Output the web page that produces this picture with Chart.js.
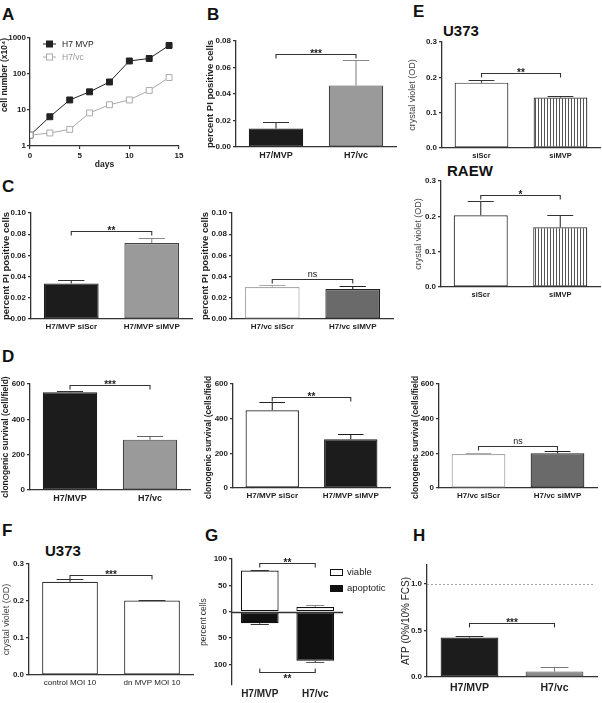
<!DOCTYPE html>
<html>
<head>
<meta charset="utf-8">
<title>MVP figure</title>
<script src="https://cdn.jsdelivr.net/npm/chart.js@4.4.1/dist/chart.umd.min.js"></script>
<style>
  body { margin: 0; width: 602px; height: 703px; position: relative; overflow: hidden; background: #fff; font-family: "Liberation Sans", Arial, sans-serif; color: #111; }
  canvas { position: absolute; }
  .letter { position: absolute; font-size: 17px; font-weight: bold; line-height: 1; }
  .title { position: absolute; font-size: 15px; font-weight: bold; line-height: 1; }
</style>
</head>
<body>
<div class="letter" style="left:2px;top:6px">A</div>
<div class="letter" style="left:207px;top:6px">B</div>
<div class="letter" style="left:413px;top:3px">E</div>
<div class="letter" style="left:2px;top:178px">C</div>
<div class="letter" style="left:2px;top:348px">D</div>
<div class="letter" style="left:2px;top:522px">F</div>
<div class="letter" style="left:205px;top:527px">G</div>
<div class="letter" style="left:413px;top:527px">H</div>
<div class="title" style="left:443px;top:23px">U373</div>
<div class="title" style="left:447px;top:163px">RAEW</div>
<div class="title" style="left:45px;top:543px">U373</div>

<script>
// A - growth curve (log scale)
const daysA = [0, 2, 4, 6, 8, 10, 12, 14];
const mvpA = [2, 6.5, 19, 32, 60, 230, 270, 620];
const vcA = [2, 2.3, 2.9, 8.3, 14, 19, 35, 80];
const yTicksA = [1, 10, 100, 1000];

// B - PI positive cells
const catsB = ["H7/MVP", "H7/vc"];
const valsB = [0.014, 0.0465];
const errB = [0.005, 0.0195];
const yTicksB = [0, 0.02, 0.04, 0.06, 0.08];

// C - PI positive cells after siRNA
const catsC1 = ["H7/MVP siScr", "H7/MVP siMVP"];
const valsC1 = [0.0336, 0.0717];
const errC1 = [0.003, 0.005];
const catsC2 = ["H7/vc siScr", "H7/vc siMVP"];
const valsC2 = [0.0302, 0.0283];
const errC2 = [0.002, 0.0027];
const yTicksC = [0, 0.02, 0.04, 0.06, 0.08, 0.10];

// D - clonogenic survival
const catsD1 = ["H7/MVP", "H7/vc"];
const valsD1 = [553, 285];
const errD1 = [7, 21];
const catsD2 = ["H7/MVP siScr", "H7/MVP siMVP"];
const valsD2 = [448, 281];
const errD2 = [46, 29];
const catsD3 = ["H7/vc siScr", "H7/vc siMVP"];
const valsD3 = [196, 200];
const errD3 = [8, 12];
const yTicksD = [0, 200, 400, 600];

// E - crystal violet, U373 and RAEW
const catsE = ["siScr", "siMVP"];
const valsE1 = [0.185, 0.143];
const errE1 = [0.008, 0.005];
const valsE2 = [0.203, 0.169];
const errE2 = [0.041, 0.036];
const yTicksE = [0, 0.1, 0.2, 0.3];

// F - crystal violet, dn MVP
const catsF = ["control MOI 10", "dn MVP MOI 10"];
const valsF = [0.252, 0.2015];
const errF = [0.007, 0.001];

// G - viable / apoptotic
const catsG = ["H7/MVP", "H7/vc"];
const viableG = [78, 9];
const viableErrG = [1, 3];
const apoptoticG = [-22, -93];
const apoptoticErrG = [1, 3];
const yTicksG = [100, 50, 0, -50, -100];

// H - ATP ratio
const catsH = ["H7/MVP", "H7/vc"];
const valsH = [0.422, 0.06];
const errH = [0.018, 0.043];
const yTicksH = [0, 0.5, 1.0];
const refH = 1.0;

// significance brackets
const sigB = [{ y: 0.070, text: "***" }];
const sigC1 = [{ y: 0.0827, text: "**" }];
const sigC2 = [{ y: 0.0377, text: "ns" }];
const sigD1 = [{ y: 593, text: "***" }];
const sigD2 = [{ y: 525, text: "**" }];
const sigD3 = [{ y: 242, text: "ns" }];
const sigE1 = [{ y: 0.212, text: "**" }];
const sigE2 = [{ y: 0.26, text: "*" }];
const sigF = [{ y: 0.27, text: "***" }];
const sigG = [{ y: 93, text: "**" }, { y: -114, text: "**", up: true }];
const sigH = [{ y: 0.579, text: "***" }];

const FONT = "'Liberation Sans', Arial, sans-serif";
const AX = '#333';
const BLACK = '#1c1c1c';

function font(size, weight) {
  return { family: FONT, size: size, weight: weight || 'bold', lineHeight: 1.2 };
}

// canvas placed so the plot area lands on the given pixel box
function makeCanvas(b) {
  const c = document.createElement('canvas');
  const left = b.x0 - b.W, top = b.yT - b.padT;
  const w = b.xR + b.padR - left, h = b.yB + b.H - top;
  c.width = w; c.height = h;
  c.style.left = left + 'px'; c.style.top = top + 'px';
  c.style.width = w + 'px'; c.style.height = h + 'px';
  document.body.appendChild(c);
  return c;
}

function stripes() {
  const c = document.createElement('canvas');
  c.width = 3; c.height = 3;
  const x = c.getContext('2d');
  x.fillStyle = '#fff'; x.fillRect(0, 0, 3, 3);
  x.fillStyle = '#555'; x.fillRect(0, 0, 1, 3);
  return x.createPattern(c, 'repeat');
}

// error bars, brackets, reference lines and legends
const extras = {
  id: 'extras',
  afterDatasetsDraw(chart, args, o) {
    const ctx = chart.ctx, ys = chart.scales.y, a = chart.chartArea;
    ctx.save();
    if (o.refLine != null) {
      const yy = Math.round(ys.getPixelForValue(o.refLine)) + 0.5;
      ctx.strokeStyle = '#888'; ctx.lineWidth = 0.8; ctx.setLineDash([2, 2]);
      ctx.beginPath(); ctx.moveTo(a.left, yy); ctx.lineTo(a.right - 4, yy); ctx.stroke();
      ctx.setLineDash([]);
    }
    if (o.zeroLine) {
      const yy = Math.round(ys.getPixelForValue(0)) + 0.5;
      ctx.strokeStyle = AX; ctx.lineWidth = 1.3;
      ctx.beginPath(); ctx.moveTo(a.left, yy); ctx.lineTo(a.right, yy); ctx.stroke();
    }
    (o.errs || []).forEach((errs, di) => {
      const meta = chart.getDatasetMeta(di);
      const data = chart.data.datasets[di].data;
      meta.data.forEach((el, i) => {
        const v = data[i], e = errs[i];
        const tip = Math.round(ys.getPixelForValue(v < 0 ? v - e : v + e)) + 0.5;
        const half = el.width * 0.24;
        ctx.strokeStyle = o.errColor[di][i]; ctx.lineWidth = 1.1;
        ctx.beginPath();
        ctx.moveTo(el.x, el.y); ctx.lineTo(el.x, tip);
        ctx.moveTo(el.x - half, tip); ctx.lineTo(el.x + half, tip);
        ctx.stroke();
      });
    });
    (o.brackets || []).forEach(br => {
      const m = chart.getDatasetMeta(0);
      const x1 = m.data[0].x, x2 = m.data[1].x;
      const yy = Math.round(ys.getPixelForValue(br.y)) + 0.5;
      const d = br.up ? -4 : 4;
      ctx.strokeStyle = AX; ctx.lineWidth = 1.1;
      ctx.beginPath();
      ctx.moveTo(x1, yy + d); ctx.lineTo(x1, yy); ctx.lineTo(x2, yy); ctx.lineTo(x2, yy + d);
      ctx.stroke();
      ctx.fillStyle = '#222'; ctx.textAlign = 'center'; ctx.textBaseline = 'alphabetic';
      if (br.text === 'ns') {
        ctx.font = `9px ${FONT}`;
        ctx.fillText(br.text, (x1 + x2) / 2, yy - 2.5);
      } else {
        ctx.font = `bold 10px ${FONT}`;
        ctx.fillText(br.text, (x1 + x2) / 2, br.up ? yy + 9 : yy + 2.5);
      }
    });
    if (o.legendA) {
      o.legendA.forEach(it => {
        const y = a.top + it.dy;
        ctx.strokeStyle = it.color; ctx.lineWidth = 1;
        ctx.beginPath(); ctx.moveTo(a.left + 13, y); ctx.lineTo(a.left + 26, y); ctx.stroke();
        ctx.fillStyle = it.fill;
        ctx.fillRect(a.left + 16.5, y - 3, 6, 6);
        ctx.strokeRect(a.left + 16.5, y - 3, 6, 6);
        ctx.fillStyle = it.text; ctx.font = `8.5px ${FONT}`;
        ctx.textAlign = 'left'; ctx.textBaseline = 'middle';
        ctx.fillText(it.label, a.left + 32, y + 0.5);
      });
    }
    if (o.legendG) {
      o.legendG.forEach(it => {
        const y = a.top + it.dy;
        ctx.fillStyle = it.fill; ctx.strokeStyle = '#111'; ctx.lineWidth = 1;
        ctx.fillRect(a.left + 98, y, 13, 7);
        ctx.strokeRect(a.left + 98.5, y + 0.5, 12, 6);
        ctx.fillStyle = '#222'; ctx.font = `9.5px ${FONT}`;
        ctx.textAlign = 'left'; ctx.textBaseline = 'middle';
        ctx.fillText(it.label, a.left + 115, y + 3.5);
      });
    }
    ctx.restore();
  }
};

function barPanel(p) {
  const b = p.box;
  const c = makeCanvas(b);
  const datasets = p.sets.map(s => ({
    data: s.data, backgroundColor: s.fill, borderColor: s.line,
    borderWidth: 1.2, borderSkipped: false,
    barPercentage: 0.68, categoryPercentage: 1
  }));
  return new Chart(c, {
    type: 'bar',
    data: { labels: p.cats, datasets: datasets },
    options: {
      responsive: false, animation: false, events: [],
      layout: { padding: { top: b.padT, right: b.padR, left: 0, bottom: 0 } },
      plugins: {
        legend: { display: false }, tooltip: { enabled: false },
        extras: {
          errs: p.sets.map(s => s.err),
          errColor: p.sets.map(s => s.errColor || s.line),
          brackets: p.sig, refLine: p.refLine, zeroLine: p.zeroLine, legendG: p.legendG
        }
      },
      scales: {
        x: {
          stacked: !!p.stacked,
          ticks: { font: font(p.catSize, p.catWeight), color: '#222', padding: p.catPad || 3, maxRotation: 0, autoSkip: false },
          grid: { display: false, drawTicks: false },
          border: { display: !p.zeroLine, color: AX, width: 1.3 },
          afterFit: s => { s.height = b.H; }
        },
        y: {
          stacked: !!p.stacked,
          min: p.yMin || 0, max: p.yMax,
          afterBuildTicks: s => { s.ticks = p.yTicks.map(v => ({ value: v })); },
          ticks: { font: font(8), color: '#222', padding: 2, callback: p.fmt },
          grid: { drawOnChartArea: false, tickLength: 3, color: AX, lineWidth: 1.2 },
          border: { color: AX, width: 1.3 },
          title: { display: true, text: p.yTitle, font: font(p.titleSize, p.titleWeight), color: p.titleColor || '#222', padding: { top: 1, bottom: 0 } },
          afterFit: s => { s.width = b.W; }
        }
      }
    },
    plugins: [extras]
  });
}

const fix = n => v => Number(v).toFixed(n);

// ---- A ----
new Chart(makeCanvas({ x0: 30, xR: 179, yT: 38, yB: 146, W: 30, H: 24, padT: 8, padR: 8 }), {
  type: 'line',
  data: {
    datasets: [
      { label: 'H7 MVP', data: daysA.map((d, i) => ({ x: d, y: mvpA[i] })), order: 1,
        borderColor: '#222', backgroundColor: '#222', borderWidth: 1,
        pointStyle: 'rect', pointRadius: 4.2, pointBorderWidth: 1 },
      { label: 'H7/vc', data: daysA.map((d, i) => ({ x: d, y: vcA[i] })), order: 0,
        borderColor: '#aaa', backgroundColor: '#fff', pointBorderColor: '#aaa', borderWidth: 1,
        pointStyle: 'rect', pointRadius: 4.2, pointBorderWidth: 1 }
    ]
  },
  options: {
    responsive: false, animation: false, events: [],
    layout: { padding: { top: 8, right: 8, left: 0, bottom: 0 } },
    plugins: {
      legend: { display: false }, tooltip: { enabled: false },
      extras: {
        legendA: [
          { label: 'H7 MVP', color: '#222', fill: '#222', text: '#222', dy: 6 },
          { label: 'H7/vc', color: '#aaa', fill: '#fff', text: '#999', dy: 19 }
        ]
      }
    },
    scales: {
      x: {
        type: 'linear', min: 0, max: 15,
        ticks: { stepSize: 5, font: font(8), color: '#222', padding: 2 },
        grid: { drawOnChartArea: false, tickLength: 3, color: AX, lineWidth: 1.2 },
        border: { color: AX, width: 1.3 },
        title: { display: true, text: 'days', font: font(8.5), color: '#222', padding: { top: 0, bottom: 0 } },
        afterFit: s => { s.height = 24; }
      },
      y: {
        type: 'logarithmic', min: 1, max: 1000,
        afterBuildTicks: s => { s.ticks = yTicksA.map(v => ({ value: v })); },
        ticks: { font: font(8), color: '#222', padding: 1, callback: v => String(v) },
        grid: { drawOnChartArea: false, tickLength: 3, color: AX, lineWidth: 1.2 },
        border: { color: AX, width: 1.3 },
        title: { display: true, text: 'cell number (x10⁴)', align: 'end', font: font(8.5), color: '#222', padding: { top: 0, bottom: 0 } },
        afterFit: s => { s.width = 30; }
      }
    }
  },
  plugins: [extras]
});

// ---- B ----
barPanel({
  box: { x0: 236, xR: 396, yT: 41, yB: 147, W: 32, H: 16, padT: 8, padR: 4 },
  cats: catsB, yMax: 0.08, yTicks: yTicksB, fmt: fix(2), catSize: 9,
  yTitle: 'percent PI positive cells', titleSize: 9.5,
  sets: [{ data: valsB, err: errB, fill: [BLACK, '#9a9a9a'], line: [BLACK, '#444'], errColor: ['#333', '#888'] }],
  sig: sigB
});

// ---- C ----
barPanel({
  box: { x0: 31, xR: 192, yT: 213, yB: 319, W: 31, H: 16, padT: 8, padR: 4 },
  cats: catsC1, yMax: 0.10, yTicks: yTicksC, fmt: fix(2), catSize: 8,
  yTitle: 'percent PI positive cells', titleSize: 9.5,
  sets: [{ data: valsC1, err: errC1, fill: [BLACK, '#9a9a9a'], line: [BLACK, '#444'], errColor: ['#333', '#888'] }],
  sig: sigC1
});
barPanel({
  box: { x0: 232, xR: 393, yT: 213, yB: 319, W: 33, H: 16, padT: 8, padR: 4 },
  cats: catsC2, yMax: 0.10, yTicks: yTicksC, fmt: fix(2), catSize: 8,
  yTitle: 'percent PI positive cells', titleSize: 9.5,
  sets: [{ data: valsC2, err: errC2, fill: ['#fff', '#6a6a6a'], line: ['#aaa', '#222'] }],
  sig: sigC2
});

// ---- D ----
barPanel({
  box: { x0: 30, xR: 190, yT: 384, yB: 490, W: 30, H: 16, padT: 8, padR: 4 },
  cats: catsD1, yMax: 600, yTicks: yTicksD, fmt: fix(0), catSize: 9,
  yTitle: 'clonogenic survival (cell/field)', titleSize: 8.5,
  sets: [{ data: valsD1, err: errD1, fill: [BLACK, '#9a9a9a'], line: [BLACK, '#444'], errColor: ['#333', '#666'] }],
  sig: sigD1
});
barPanel({
  box: { x0: 233, xR: 390, yT: 384, yB: 488, W: 30, H: 16, padT: 8, padR: 4 },
  cats: catsD2, yMax: 600, yTicks: yTicksD, fmt: fix(0), catSize: 8,
  yTitle: 'clonogenic survival (cells/field)', titleSize: 8.5,
  sets: [{ data: valsD2, err: errD2, fill: ['#fff', BLACK], line: ['#222', BLACK] }],
  sig: sigD2
});
barPanel({
  box: { x0: 439, xR: 597, yT: 384, yB: 488, W: 29, H: 16, padT: 8, padR: 4 },
  cats: catsD3, yMax: 600, yTicks: yTicksD, fmt: fix(0), catSize: 8,
  yTitle: 'clonogenic survival (cells/field)', titleSize: 8.5,
  sets: [{ data: valsD3, err: errD3, fill: ['#fff', '#6a6a6a'], line: ['#aaa', '#222'] }],
  sig: sigD3
});

// ---- E ----
const hatch = stripes();
barPanel({
  box: { x0: 442, xR: 600, yT: 42, yB: 148, W: 36, H: 16, padT: 8, padR: 1 },
  cats: catsE, yMax: 0.3, yTicks: yTicksE, fmt: fix(1), catSize: 7.5,
  yTitle: 'crystal violet (OD)', titleSize: 9, titleWeight: 'normal', titleColor: '#444',
  sets: [{ data: valsE1, err: errE1, fill: ['#fff', hatch], line: ['#333', '#333'] }],
  sig: sigE1
});
barPanel({
  box: { x0: 441, xR: 600, yT: 181, yB: 287, W: 29, H: 16, padT: 8, padR: 1 },
  cats: catsE, yMax: 0.3, yTicks: yTicksE, fmt: fix(1), catSize: 7.5,
  yTitle: 'crystal violet (OD)', titleSize: 9, titleWeight: 'normal', titleColor: '#444',
  sets: [{ data: valsE2, err: errE2, fill: ['#fff', hatch], line: ['#333', '#333'] }],
  sig: sigE2
});

// ---- F ----
barPanel({
  box: { x0: 29, xR: 193, yT: 564, yB: 675, W: 29, H: 16, padT: 8, padR: 4 },
  cats: catsF, yMax: 0.3, yTicks: yTicksE, fmt: fix(1), catSize: 8, catWeight: 'normal',
  yTitle: 'crystal violet (OD)', titleSize: 9, titleWeight: 'normal', titleColor: '#444',
  sets: [{ data: valsF, err: errF, fill: ['#fff', '#fff'], line: ['#333', '#333'] }],
  sig: sigF
});

// ---- G ----
barPanel({
  box: { x0: 232, xR: 343, yT: 559, yB: 685, W: 34, H: 16, padT: 8, padR: 45 },
  cats: catsG, yMin: -139, yMax: 100, yTicks: yTicksG, fmt: v => String(Math.abs(v)),
  catSize: 10, catPad: 3, stacked: true, zeroLine: true,
  yTitle: 'percent cells', titleSize: 8.5, titleWeight: 'normal', titleColor: '#333',
  sets: [
    { data: viableG, err: viableErrG, fill: ['#fff', '#fff'], line: ['#111', '#111'], errColor: ['#333', '#888'] },
    { data: apoptoticG, err: apoptoticErrG, fill: ['#111', '#111'], line: ['#111', '#111'], errColor: ['#333', '#555'] }
  ],
  sig: sigG,
  legendG: [
    { label: 'viable', fill: '#fff', dy: 10 },
    { label: 'apoptotic', fill: '#111', dy: 26 }
  ]
});

// ---- H ----
barPanel({
  box: { x0: 427, xR: 597, yT: 565, yB: 677, W: 28, H: 16, padT: 8, padR: 4 },
  cats: catsH, yMax: 1.2, yTicks: yTicksH, fmt: fix(1), catSize: 10.5, catPad: 4.5,
  yTitle: 'ATP (0%/10% FCS)', titleSize: 10, titleWeight: 'normal', titleColor: '#222',
  sets: [{ data: valsH, err: errH, fill: [BLACK, '#8c8c8c'], line: [BLACK, '#555'], errColor: ['#333', '#777'] }],
  sig: sigH, refLine: refH
});
</script>
</body>
</html>
